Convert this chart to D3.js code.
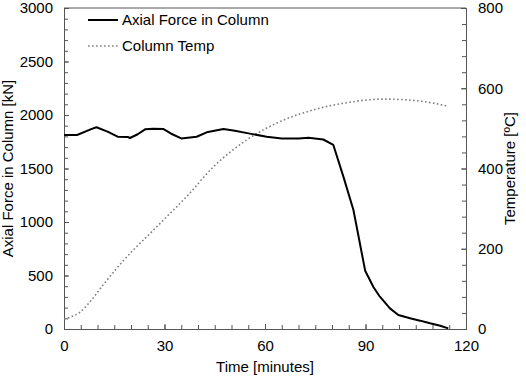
<!DOCTYPE html>
<html>
<head>
<meta charset="utf-8">
<script src="https://d3js.org/d3.v7.min.js"></script>
<style>
  body { margin: 0; background: #fff; }
  text { font-family: "Liberation Sans", Arial, sans-serif; }
</style>
</head>
<body>
<script>
    // values
    var forceTime = [0, 3.9, 8.3, 9.7, 13, 16, 19, 19.7, 22, 24.2, 26.6, 29.6, 32, 35, 39.6, 42.6, 47.6, 51, 55.5, 60.5, 65, 70, 73, 77.4, 80.4, 83.4, 86.4, 89.9, 92.4, 94.3, 97.3, 99.8, 103.3, 106.3, 109.3, 112.3, 114.7];
    var forceKN = [1813, 1813, 1870, 1885, 1845, 1797, 1795, 1785, 1820, 1866, 1872, 1870, 1825, 1781, 1797, 1838, 1869, 1852, 1826, 1797, 1781, 1781, 1788, 1771, 1720, 1424, 1112, 545, 390, 302, 193, 131, 100, 78, 53, 31, 6];

    var tempTime = [0, 2, 4.8, 7.8, 11.7, 15.7, 20.7, 25.7, 30.7, 36.6, 44.6, 54.5, 64.5, 74.4, 84.4, 95.3, 106.3, 114.2];
    var tempC = [25, 30, 42, 68, 110, 151, 197, 238, 280, 330, 404, 471, 517, 546, 564, 573, 568, 556];

    var xTicks = [0, 30, 60, 90, 120];
    var yLeftTicks = [0, 500, 1000, 1500, 2000, 2500, 3000];
    var yRightTicks = [0, 200, 400, 600, 800];

    var W = 526, H = 377,
        margin = { top: 8, right: 60, bottom: 48, left: 64 };
    var width = W - margin.left - margin.right,
        height = H - margin.top - margin.bottom;

    var svg = d3.select("body").append("svg").attr("width", W).attr("height", H);
    var g = svg.append("g").attr("transform", "translate(" + margin.left + "," + margin.top + ")");

    var x = d3.scaleLinear().domain([0, 120]).range([0, width]);
    var yL = d3.scaleLinear().domain([0, 3000]).range([height, 0]);
    var yR = d3.scaleLinear().domain([0, 800]).range([height, 0]);

    // minor ticks, drawn inside the box
    function minor(axis, scale, step, max) {
        return axis(scale).tickValues(d3.range(0, max + 0.001, step)).tickSize(-4).tickFormat("");
    }
    g.append("g").attr("transform", "translate(0," + height + ")")
        .call(minor(d3.axisBottom, x, 5, 120));
    g.append("g").call(minor(d3.axisLeft, yL, 100, 3000));
    g.append("g").attr("transform", "translate(" + width + ",0)")
        .call(minor(d3.axisRight, yR, 40, 800));

    // main axes
    var fmt = d3.format("d");
    g.append("g").attr("transform", "translate(0," + height + ")")
        .call(d3.axisBottom(x).tickValues(xTicks).tickFormat(fmt).tickSize(-5).tickPadding(11));
    g.append("g")
        .call(d3.axisLeft(yL).tickValues(yLeftTicks).tickFormat(fmt).tickSize(-5).tickPadding(11));
    g.append("g").attr("transform", "translate(" + width + ",0)")
        .call(d3.axisRight(yR).tickValues(yRightTicks).tickFormat(fmt).tickSize(-5).tickPadding(12));

    g.selectAll(".tick text").attr("font-size", 15).attr("fill", "#000")
        .attr("font-family", "Liberation Sans, Arial, sans-serif");
    g.selectAll(".domain, .tick line").attr("stroke", "#555").attr("stroke-width", 1);

    // top border
    g.append("line").attr("x1", 0).attr("x2", width).attr("y1", 0).attr("y2", 0)
        .attr("stroke", "#555");

    // axis titles
    svg.append("text").attr("x", margin.left + width / 2).attr("y", 372)
        .attr("text-anchor", "middle").attr("font-size", 15).text("Time [minutes]");
    svg.append("text").attr("transform", "translate(13," + (margin.top + height / 2) + ") rotate(-90)")
        .attr("text-anchor", "middle").attr("font-size", 15).text("Axial Force in Column [kN]");
    svg.append("text").attr("transform", "translate(515," + (margin.top + height / 2) + ") rotate(-90)")
        .attr("text-anchor", "middle").attr("font-size", 15).text("Temperature [ºC]");

    var lines = g.append("g");

    var tempLine = d3.line()
        .x(function (d, i) { return x(tempTime[i]); })
        .y(function (d) { return yR(d); })
        .curve(d3.curveMonotoneX);
    lines.append("path").datum(tempC)
        .attr("fill", "none").attr("stroke", "#808080").attr("stroke-width", 1.6)
        .attr("stroke-dasharray", "1.6,2.4")
        .attr("d", tempLine);

    var forceLine = d3.line()
        .x(function (d, i) { return x(forceTime[i]); })
        .y(function (d) { return yL(d); });
    lines.append("path").datum(forceKN)
        .attr("fill", "none").attr("stroke", "#000").attr("stroke-width", 2)
        .attr("stroke-linejoin", "round")
        .attr("d", forceLine);

    // legend
    var legend = svg.append("g").attr("transform", "translate(88,20)");
    legend.append("line").attr("x1", 0).attr("x2", 30).attr("y1", 0).attr("y2", 0)
        .attr("stroke", "#000").attr("stroke-width", 2);
    legend.append("text").attr("x", 34).attr("y", 5).attr("font-size", 15).text("Axial Force in Column");
    legend.append("line").attr("x1", 0).attr("x2", 30).attr("y1", 26).attr("y2", 26)
        .attr("stroke", "#808080").attr("stroke-width", 1.6).attr("stroke-dasharray", "1.6,2.4");
    legend.append("text").attr("x", 34).attr("y", 31).attr("font-size", 15).text("Column Temp");
</script>
</body>
</html>
